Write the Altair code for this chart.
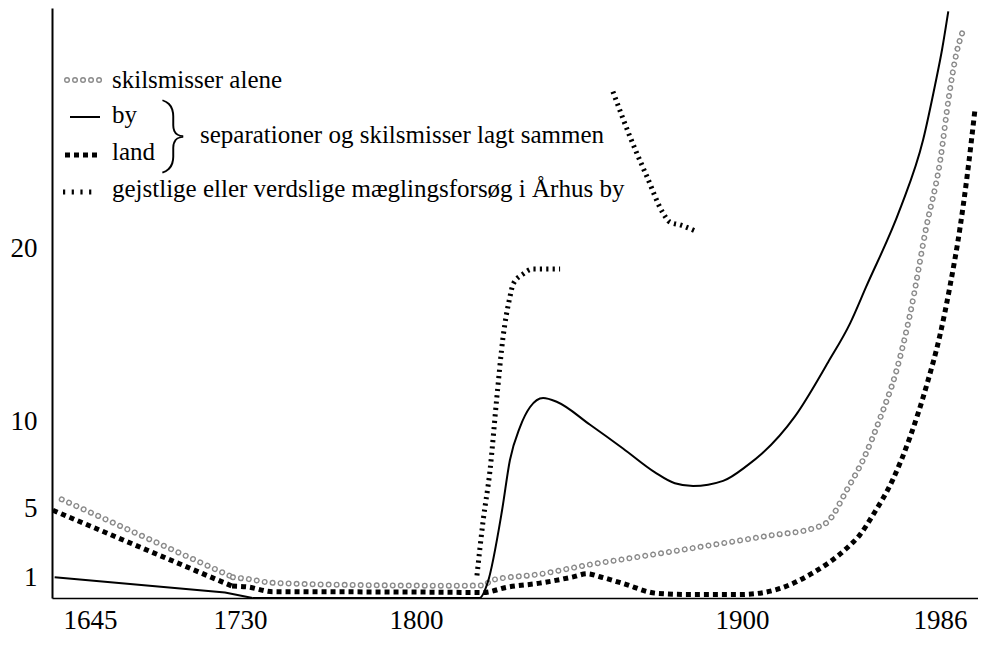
import altair as alt
import pandas as pd

# ---- axis tick labels ----
x_ticks = [1645, 1730, 1800, 1900, 1986]
y_ticks = [1, 5, 10, 20]

# ---- series ----
alene_year = [1629, 1726, 1733, 1743, 1783, 1813, 1821, 1823, 1838, 1853, 1869, 1889,
              1912, 1931, 1937, 1946, 1953, 1960, 1967, 1973, 1980, 1986, 1990, 1993, 1996]
alene_val = [5.5, 1.0, 0.9, 0.68, 0.54, 0.51, 0.53, 0.82, 1.18, 1.72, 2.2, 2.81,
             3.41, 3.83, 4.18, 6.16, 7.9, 10.2, 12.9, 16.2, 21.2, 25.0, 28.9, 31.2, 32.6]

by_year = [1625, 1721.5, 1735, 1800, 1819.5, 1822, 1826.4, 1828.8, 1831.9, 1835, 1839,
           1843.3, 1853.4, 1863.5, 1873.3, 1879.4, 1885, 1894.2, 1902.2, 1908.7, 1923,
           1937.4, 1947, 1953.9, 1968.7, 1978.7, 1983.9, 1986.9, 1989.6]
by_val = [1.0, 0.12, -0.2, -0.2, -0.2, 0.7, 4.87, 7.76, 9.68, 10.84, 11.36,
          11.13, 9.81, 8.44, 7.06, 6.43, 6.27, 6.57, 7.45, 8.15, 10.3,
          13.43, 15.69, 17.78, 22.3, 26.3, 29.48, 31.5, 33.7]

land_year = [1624, 1725.5, 1733, 1743, 1793.5, 1820.6, 1827.9, 1838, 1848.2, 1852.5,
             1856.4, 1863.5, 1873.9, 1884, 1899.4, 1909.1, 1916.5, 1930.4, 1945.6,
             1951.2, 1956.9, 1965.5, 1972.9, 1980.3, 1986, 1990.3, 1994.7, 1997.7, 2001.2]
land_val = [4.87, 0.49, 0.44, 0.16, 0.15, 0.12, 0.42, 0.66, 1.02, 1.2,
            1.03, 0.64, 0.07, 0.0, 0.0, 0.11, 0.35, 1.22, 2.69,
            3.45, 4.6, 6.64, 9.07, 12.14, 15.0, 17.8, 21.2, 24.1, 28.05]

maegl1_year = [1818.7, 1820.6, 1822.7, 1824.8, 1826.7, 1828.8, 1829.8, 1832.8, 1835.9, 1844.2]
maegl1_val = [1.1, 4.28, 7.17, 11.4, 14.87, 17.19, 17.94, 18.52, 18.82, 18.82]
maegl2_year = [1860.4, 1865.6, 1870.8, 1875.8, 1877.9, 1881, 1886.2]
maegl2_val = [29.07, 26.48, 24.17, 22.04, 21.52, 21.36, 20.97]

# index where each series stops being a straight drawn segment
alene_kink, by_kink, land_kink = 1, 2, 1


def table(years, vals):
    return pd.DataFrame({"year": years, "v": vals})


alene_a = table(alene_year[:alene_kink + 1], alene_val[:alene_kink + 1])
alene_b = table(alene_year[alene_kink:], alene_val[alene_kink:])
by_a = table(by_year[:by_kink + 1], by_val[:by_kink + 1])
by_b = table(by_year[by_kink:], by_val[by_kink:])
land_a = table(land_year[:land_kink + 1], land_val[:land_kink + 1])
land_b = table(land_year[land_kink:], land_val[land_kink:])
maegl = pd.concat([
    table(maegl1_year, maegl1_val).assign(seg="a"),
    table(maegl2_year, maegl2_val).assign(seg="b"),
])
one = pd.DataFrame({"k": [0]})

SERIF = "Liberation Serif"

x_scale = alt.Scale(domain=[1623.5, 1645, 1730, 1800, 1900, 1986, 2002.5],
                    range=[0, 38, 188, 364, 690, 888, 926], nice=False, zero=False)
y_scale = alt.Scale(domain=[-0.2, 33.9], nice=False, zero=False)

x_enc = alt.X("year:Q", scale=x_scale, axis=alt.Axis(
    values=x_ticks, format="d", title=None, grid=False, ticks=True, tickSize=0,
    labelPadding=9, labelFont=SERIF, labelFontSize=27, labelColor="black",
    domainColor="black", domainWidth=1.5, labelFlush=False, labelOverlap=False))
y_enc = alt.Y("v:Q", scale=y_scale, axis=alt.Axis(
    values=y_ticks, format="d", title=None, grid=False, ticks=True, tickSize=0,
    labelPadding=15, labelFont=SERIF, labelFontSize=27, labelColor="black",
    domainColor="black", domainWidth=2, labelFlush=False, labelOverlap=False))

RING_DASH = [0.01, 8]
ring_gray = dict(color="#8a8a8a", strokeWidth=6, strokeDash=RING_DASH, strokeCap="round")
ring_white = dict(color="white", strokeWidth=3.2, strokeDash=RING_DASH, strokeCap="round")
land_style = dict(color="black", strokeWidth=5, strokeDash=[5, 4])
by_style = dict(color="black", strokeWidth=2)
x_style = dict(color="black", strokeWidth=5, strokeDash=[2.2, 4.2])


def line(df, style, interp, **enc):
    return alt.Chart(df).mark_line(interpolate=interp, **style).encode(x=x_enc, y=y_enc, **enc)


layers = [
    line(alene_a, ring_gray, "linear"),
    line(alene_a, ring_white, "linear"),
    line(alene_b, ring_gray, "monotone"),
    line(alene_b, ring_white, "monotone"),
    line(land_a, land_style, "linear"),
    line(land_b, land_style, "monotone"),
    line(by_a, by_style, "linear"),
    line(by_b, by_style, "monotone"),
    line(maegl, x_style, "monotone", detail="seg:N"),
]

# ---- legend (annotation) ----
def sample(style, x0, x1, y):
    return alt.Chart(one).mark_rule(**style).encode(
        x=alt.value(x0), x2=alt.value(x1), y=alt.value(y))


def label(txt, x, y, size=25, font=SERIF, **kw):
    return alt.Chart(one).mark_text(text=txt, align="left", baseline="alphabetic",
                                    font=font, fontSize=size, color="black", **kw).encode(
        x=alt.value(x), y=alt.value(y))


layers += [
    sample(ring_gray, 15, 53, 72),
    sample(ring_white, 15, 53, 72),
    label("skilsmisser alene", 60, 80),
    sample(by_style, 18, 48, 109),
    label("by", 60, 115),
    sample(land_style, 13, 45, 147),
    label("land", 60, 152),
    alt.Chart(one).mark_text(text="}", align="center", baseline="middle",
                             font="Roboto", fontWeight=100, fontSize=74, color="black").encode(
        x=alt.value(122), y=alt.value(127)),
    label("separationer og skilsmisser lagt sammen", 148, 135),
    sample(dict(color="black", strokeWidth=5, strokeDash=[2.2, 6.5]), 11, 45, 184),
    label("gejstlige eller verdslige mæglingsforsøg i Århus by", 60, 189),
]

chart = alt.layer(*layers).properties(
    width=926, height=590,
    padding={"left": 44, "top": 0, "right": 0, "bottom": 42},
    autosize=alt.AutoSizeParams(type="none"),
    background="white",
).configure_view(stroke=None)

chart.save("out.html", embed_options={"renderer": "svg", "actions": False})
